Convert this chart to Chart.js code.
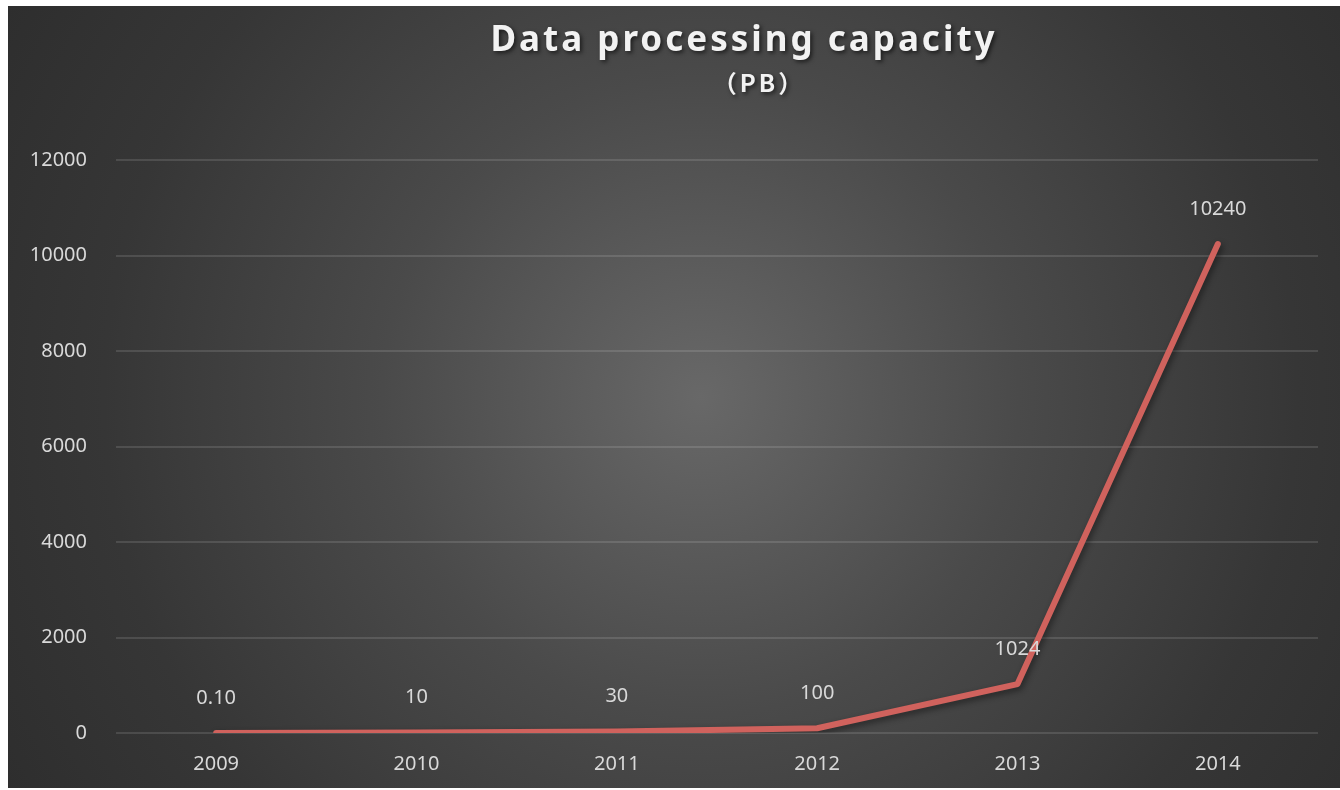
<!DOCTYPE html>
<html>
<head>
<meta charset="utf-8">
<title>Data processing capacity</title>
<script src="https://cdn.jsdelivr.net/npm/chart.js@4.4.1/dist/chart.umd.min.js"></script>
<style>
    html, body {
        margin: 0;
        padding: 0;
        background: #ffffff;
    }
    .chart-box {
        position: absolute;
        left: 8px;
        top: 6px;
        width: 1332px;
        height: 782px;
        background: radial-gradient(circle at 52% 50%, #686868 0%, #4a4a4a 40%, #363636 75%, #2e2e2e 100%);
    }
</style>
</head>
<body>
<div class="chart-box">
    <canvas id="capacityChart" width="1332" height="782"></canvas>
</div>

<script>
// Chart data
const years = ['2009', '2010', '2011', '2012', '2013', '2014'];
const capacityPB = [0.1, 10, 30, 100, 1024, 10240];
const capacityLabels = ['0.10', '10', '30', '100', '1024', '10240'];
const titleText = 'Data processing capacity';
const subtitleText = '（PB）';

const TEXT_COLOR = '#d9d9d9';
const LINE_COLOR = 'rgb(208, 98, 93)';
const FONT = '"Noto Sans", "Liberation Sans", sans-serif';

// Title block: letter-spaced bold text with a soft shadow
const titleBlock = {
    id: 'titleBlock',
    afterDraw(chart) {
        const ctx = chart.ctx;
        ctx.save();
        ctx.fillStyle = '#f2f2f2';
        ctx.textAlign = 'center';
        ctx.textBaseline = 'alphabetic';
        ctx.shadowColor = 'rgba(0, 0, 0, 0.6)';
        ctx.shadowBlur = 4;
        ctx.shadowOffsetX = 2;
        ctx.shadowOffsetY = 2;
        ctx.letterSpacing = '3px';
        ctx.font = 'bold 35px ' + FONT;
        ctx.fillText(titleText, 736, 45);
        ctx.letterSpacing = '3px';
        ctx.font = 'bold 24px "Noto Sans CJK SC", ' + FONT;
        ctx.fillText(subtitleText, 751, 86);
        ctx.restore();
    }
};

// Value labels above each point
const valueLabels = {
    id: 'valueLabels',
    afterDatasetsDraw(chart) {
        const ctx = chart.ctx;
        const meta = chart.getDatasetMeta(0);
        ctx.save();
        ctx.fillStyle = TEXT_COLOR;
        ctx.font = '20px ' + FONT;
        ctx.textAlign = 'center';
        ctx.textBaseline = 'middle';
        meta.data.forEach((pt, i) => {
            ctx.fillText(capacityLabels[i], pt.x, pt.y - 35);
        });
        ctx.restore();
    }
};

// Soft shadow under the line
const lineShadow = {
    id: 'lineShadow',
    beforeDatasetDraw(chart) {
        const ctx = chart.ctx;
        ctx.save();
        ctx.shadowColor = 'rgba(0, 0, 0, 0.45)';
        ctx.shadowBlur = 6;
        ctx.shadowOffsetX = 2;
        ctx.shadowOffsetY = 3;
    },
    afterDatasetDraw(chart) {
        chart.ctx.restore();
    }
};

new Chart(document.getElementById('capacityChart'), {
    type: 'line',
    data: {
        labels: years,
        datasets: [{
            data: capacityPB,
            borderColor: LINE_COLOR,
            borderWidth: 6,
            borderCapStyle: 'round',
            borderJoinStyle: 'round',
            pointRadius: 0,
            tension: 0,
            fill: false
        }]
    },
    options: {
        responsive: false,
        animation: false,
        layout: {
            padding: { left: 0, right: 22, top: 154, bottom: 0 }
        },
        plugins: {
            legend: { display: false },
            tooltip: { enabled: false },
            title: { display: false }
        },
        scales: {
            x: {
                offset: true,
                grid: { display: false },
                border: { display: false },
                ticks: {
                    color: TEXT_COLOR,
                    font: { family: FONT, size: 20 },
                    padding: 11
                },
                afterFit(scale) {
                    scale.height = 55;
                }
            },
            y: {
                min: 0,
                max: 12000,
                border: { display: false },
                grid: {
                    color: 'rgba(255, 255, 255, 0.12)',
                    lineWidth: 2,
                    drawTicks: false
                },
                ticks: {
                    stepSize: 2000,
                    color: TEXT_COLOR,
                    font: { family: FONT, size: 20 },
                    padding: 29,
                    callback: (value) => String(value)
                },
                afterFit(scale) {
                    scale.width = 108;
                }
            }
        }
    },
    plugins: [lineShadow, valueLabels, titleBlock]
});
</script>
</body>
</html>
